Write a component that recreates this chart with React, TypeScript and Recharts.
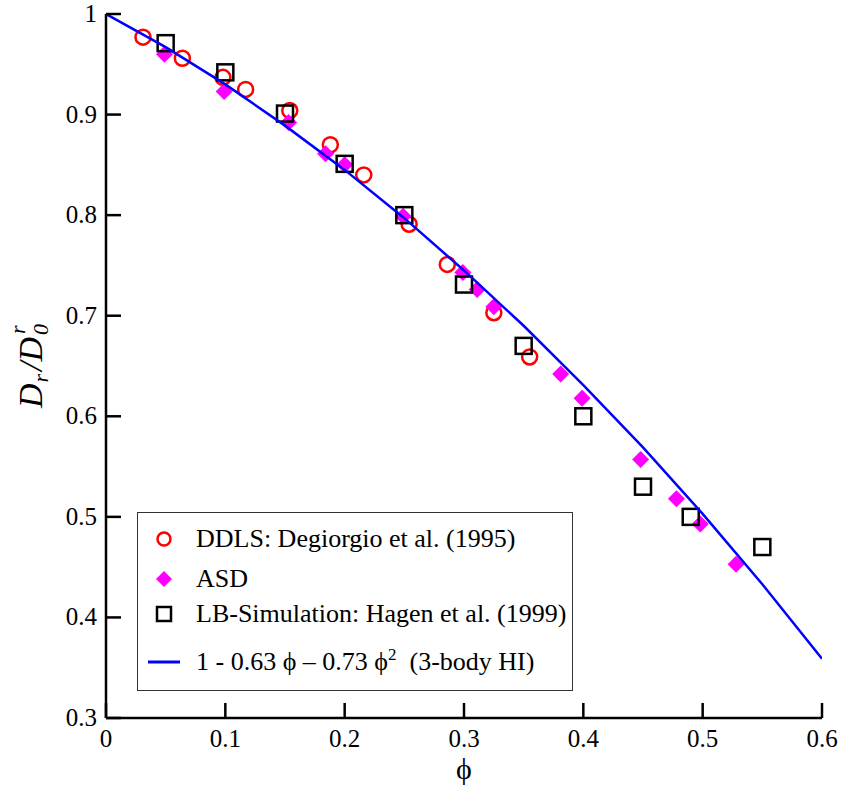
import { ScatterChart, Scatter, XAxis, YAxis, Legend } from "recharts";

// DDLS: Degiorgio et al. (1995)
const ddlsPhi = [0.031, 0.064, 0.098, 0.117, 0.154, 0.188, 0.216, 0.254, 0.286, 0.325, 0.355];
const ddlsDr = [0.977, 0.956, 0.937, 0.925, 0.904, 0.87, 0.84, 0.791, 0.751, 0.703, 0.659];

// ASD
const asdPhi = [0.049, 0.099, 0.153, 0.184, 0.2, 0.249, 0.299, 0.311, 0.325, 0.381, 0.399, 0.448, 0.478, 0.498, 0.528];
const asdDr = [0.96, 0.923, 0.892, 0.861, 0.85, 0.799, 0.743, 0.726, 0.709, 0.642, 0.618, 0.557, 0.518, 0.493, 0.453];

// LB-Simulation: Hagen et al. (1999)
const lbPhi = [0.05, 0.1, 0.15, 0.2, 0.25, 0.3, 0.35, 0.4, 0.45, 0.49, 0.55];
const lbDr = [0.971, 0.942, 0.901, 0.851, 0.8, 0.731, 0.67, 0.6, 0.53, 0.5, 0.47];

// 3-body HI curve
const fitPhi = [0, 0.05, 0.1, 0.15, 0.2, 0.25, 0.3, 0.35, 0.4, 0.45, 0.5, 0.55, 0.6];
const fitDr = [1.0, 0.967, 0.93, 0.889, 0.845, 0.797, 0.745, 0.69, 0.631, 0.569, 0.503, 0.433, 0.359];

const xTicks = [0, 0.1, 0.2, 0.3, 0.4, 0.5, 0.6];
const yTicks = [0.3, 0.4, 0.5, 0.6, 0.7, 0.8, 0.9, 1];

const pts = (xs: number[], ys: number[]) => xs.map((x, i) => ({ x, y: ys[i] }));

const serif = "'Liberation Serif', 'Times New Roman', serif";
const TICK = 15;

function RedCircle(p: any) {
  if (p.cx == null) return null;
  return <circle cx={p.cx} cy={p.cy} r={7.5} fill="none" stroke="#ff0000" strokeWidth={2.5} />;
}
function Diamond(p: any) {
  if (p.cx == null) return null;
  const s = 8.5;
  return (
    <polygon
      points={`${p.cx},${p.cy - s} ${p.cx + s},${p.cy} ${p.cx},${p.cy + s} ${p.cx - s},${p.cy}`}
      fill="#ff00ff"
    />
  );
}
function Square(p: any) {
  if (p.cx == null) return null;
  return <rect x={p.cx - 8} y={p.cy - 8} width={16} height={16} fill="none" stroke="#000" strokeWidth={2.5} />;
}

function BottomTick({ x, y, payload }: any) {
  const ay = y - 8;
  return (
    <g>
      <line x1={x} x2={x} y1={ay} y2={ay - TICK} stroke="#000" strokeWidth={2.5} />
      <text x={x} y={ay + 29} textAnchor="middle" fontSize={25} fontFamily={serif} fill="#000">
        {payload.value === 0 ? "0" : payload.value.toFixed(1)}
      </text>
    </g>
  );
}
function LeftTick({ x, y, payload }: any) {
  const ax = x + 9;
  return (
    <g>
      <line x1={ax} x2={ax + TICK} y1={y} y2={y} stroke="#000" strokeWidth={2.5} />
      <text x={x} y={y + 8} textAnchor="end" fontSize={25} fontFamily={serif} fill="#000">
        {payload.value === 1 ? "1" : payload.value.toFixed(1)}
      </text>
    </g>
  );
}
function TopTick({ x, y }: any) {
  return <line x1={x} x2={x} y1={y} y2={y + TICK} stroke="#000" strokeWidth={2.5} />;
}
function RightTick({ x, y }: any) {
  return <line x1={x} x2={x - TICK} y1={y} y2={y} stroke="#000" strokeWidth={2.5} />;
}

function LegendBox() {
  const row = (top: number, sym: any, label: any) => (
    <div style={{ position: "absolute", left: 0, top, height: 0, width: "100%" }}>
      <svg width={50} height={30} style={{ position: "absolute", left: 1, top: -15 }}>
        {sym}
      </svg>
      <div
        style={{
          position: "absolute",
          left: 58,
          top: -15,
          lineHeight: "30px",
          fontSize: 26,
          fontFamily: serif,
          whiteSpace: "pre",
          color: "#000",
        }}
      >
        {label}
      </div>
    </div>
  );
  return (
    <div
      style={{
        position: "relative",
        width: 436,
        height: 179,
        border: "1px solid #333",
        boxSizing: "border-box",
        background: "#fff",
      }}
    >
      {row(26, <circle cx={25} cy={15} r={6.5} fill="none" stroke="#ff0000" strokeWidth={2.5} />, "DDLS: Degiorgio et al. (1995)")}
      {row(66, <polygon points="25,7 33,15 25,23 17,15" fill="#ff00ff" />, "ASD")}
      {row(101, <rect x={18} y={8} width={14} height={14} fill="none" stroke="#000" strokeWidth={2.5} />, "LB-Simulation: Hagen et al. (1999)")}
      {row(
        149,
        <line x1={9} x2={41} y1={15} y2={15} stroke="#0000ff" strokeWidth={3} />,
        <span>
          1 - 0.63 ϕ – 0.73 ϕ<sup style={{ fontSize: 17, verticalAlign: "10px", lineHeight: 0 }}>2</sup>  (3-body HI)
        </span>
      )}
    </div>
  );
}

function YLabel({ viewBox }: any) {
  const cx = 42;
  const cy = viewBox.y + viewBox.height / 2;
  return (
    <text
      x={cx}
      y={cy}
      transform={`rotate(-90, ${cx}, ${cy})`}
      textAnchor="middle"
      fontSize={34}
      fontStyle="italic"
      fontFamily={serif}
      fill="#000"
    >
      D
      <tspan fontSize={22} dy={6} dx={1}>r</tspan>
      <tspan dy={-6} dx={3}>/D</tspan>
      <tspan fontSize={22} dy={6} dx={2}>0</tspan>
      <tspan fontSize={22} dy={-23} dx={-10}>r</tspan>
    </text>
  );
}

function XLabel({ viewBox }: any) {
  return (
    <text x={viewBox.x + viewBox.width / 2} y={779} textAnchor="middle" fontSize={30} fontFamily={serif} fill="#000">
      ϕ
    </text>
  );
}

export default function App() {
  return (
    <div style={{ position: "absolute", left: 0, top: 0, width: 841, height: 787, background: "#fff" }}>
      <ScatterChart width={841} height={787} margin={{ top: 14, right: 19, bottom: 9, left: 36 }}>
        <XAxis
          xAxisId="b"
          dataKey="x"
          type="number"
          domain={[0, 0.6]}
          ticks={xTicks}
          allowDataOverflow
          height={60}
          tickSize={0}
          tickMargin={8}
          tickLine={false}
          tick={<BottomTick />}
          axisLine={{ stroke: "#000", strokeWidth: 2.5 }}
          label={<XLabel />}
        />
        <XAxis
          xAxisId="t"
          orientation="top"
          dataKey="x"
          type="number"
          domain={[0, 0.6]}
          ticks={xTicks}
          allowDataOverflow
          height={0}
          tickSize={0}
          tickMargin={0}
          tickLine={false}
          tick={<TopTick />}
          axisLine={{ stroke: "#000", strokeWidth: 2.5 }}
        />
        <YAxis
          yAxisId="l"
          dataKey="y"
          type="number"
          domain={[0.3, 1]}
          ticks={yTicks}
          allowDataOverflow
          width={70}
          tickSize={0}
          tickMargin={9}
          tickLine={false}
          tick={<LeftTick />}
          axisLine={{ stroke: "#000", strokeWidth: 2.5 }}
          label={<YLabel />}
        />
        <YAxis
          yAxisId="r"
          orientation="right"
          dataKey="y"
          type="number"
          domain={[0.3, 1]}
          ticks={yTicks}
          allowDataOverflow
          width={0}
          tickSize={0}
          tickMargin={0}
          tickLine={false}
          tick={<RightTick />}
          axisLine={{ stroke: "#000", strokeWidth: 2.5 }}
        />
        <Legend
          layout="vertical"
          align="center"
          verticalAlign="middle"
          wrapperStyle={{ left: 137, top: 512, width: 436 }}
          content={() => <LegendBox />}
        />
        <Scatter
          name="DDLS: Degiorgio et al. (1995)"
          xAxisId="b"
          yAxisId="l"
          data={pts(ddlsPhi, ddlsDr)}
          shape={<RedCircle />}
          isAnimationActive={false}
        />
        <Scatter
          name="ASD"
          xAxisId="b"
          yAxisId="l"
          data={pts(asdPhi, asdDr)}
          shape={<Diamond />}
          isAnimationActive={false}
        />
        <Scatter
          name="LB-Simulation: Hagen et al. (1999)"
          xAxisId="b"
          yAxisId="l"
          data={pts(lbPhi, lbDr)}
          shape={<Square />}
          isAnimationActive={false}
        />
        <Scatter
          name="1 - 0.63 ϕ – 0.73 ϕ2 (3-body HI)"
          xAxisId="b"
          yAxisId="l"
          data={pts(fitPhi, fitDr)}
          line={{ stroke: "#0000ff", strokeWidth: 2.5 }}
          shape={() => <g />}
          isAnimationActive={false}
        />
      </ScatterChart>
    </div>
  );
}
